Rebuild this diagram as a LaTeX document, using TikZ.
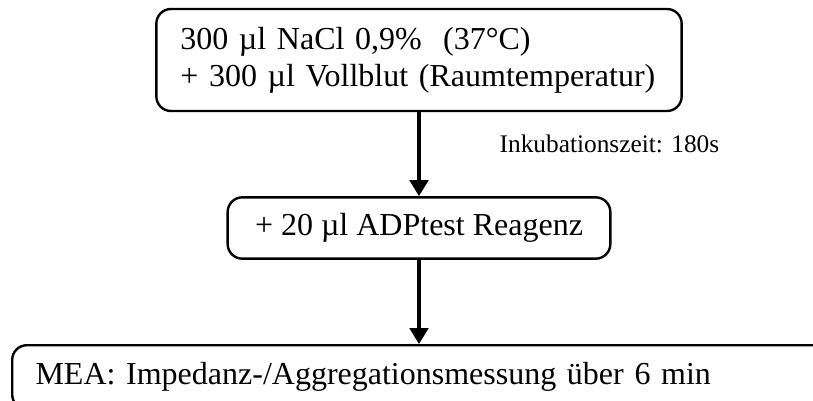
\documentclass[tikz,border=0pt]{standalone}
\usepackage{fontspec}
\setmainfont{Liberation Serif}
\usetikzlibrary{arrows.meta,positioning}
\tikzset{
  stepbox/.style={draw, line width=1.8pt, rounded corners=11pt, align=left,
    font=\fontsize{24}{27.75}\selectfont, inner ysep=0pt},
  flow/.style={-{Triangle[length=12pt,width=14pt]}, line width=2.4pt},
  note/.style={font=\fontsize{19}{22}\selectfont}
}
\begin{document}
\begin{tikzpicture}[x=0.75pt,y=-0.75pt]
\useasboundingbox (0,0) rectangle (813,400);

% Ablauf
\node[stepbox, text width=358pt, inner xsep=18pt, minimum height=76.5pt] (mix) at (419,60)
  {300 µl NaCl 0,9\% \ (37°C)\\+ 300 µl Vollblut (Raumtemperatur)};
\node[stepbox, minimum width=287pt, minimum height=46pt] (adp) at (419,228)
  {+ 20 µl ADPtest Reagenz};
\node[stepbox, anchor=north west, minimum width=640pt, minimum height=48pt,
  inner xsep=15pt, text width=605pt] (mea) at (11,344)
  {MEA: Impedanz-/Aggregationsmessung über 6 min};

% Pfeile
\draw[flow] (mix) -- node[note, anchor=west, xshift=56pt, yshift=8pt] (inkub) {Inkubationszeit: 180s} (adp);
\draw[flow] (adp.south) -- (adp.south |- mea.north);

\end{tikzpicture}
\end{document}
